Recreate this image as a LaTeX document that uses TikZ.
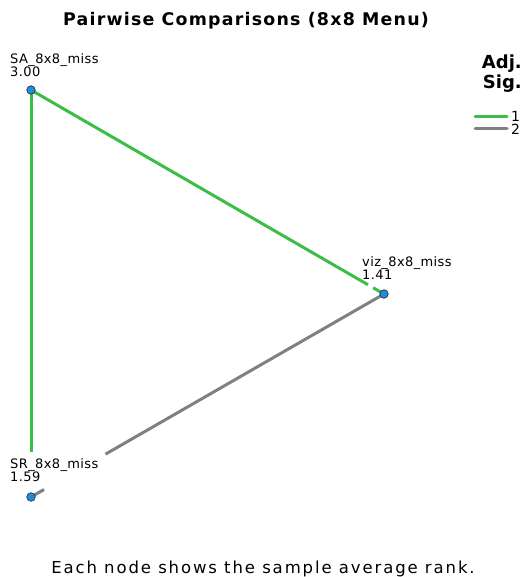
\documentclass[tikz,border=0pt]{standalone}
\usepackage{fontspec}
\usetikzlibrary{calc}
\setmainfont{DejaVu Sans}
\definecolor{sigone}{RGB}{60,190,70}
\definecolor{sigtwo}{RGB}{128,128,128}
\definecolor{nodeblue}{RGB}{30,140,225}
\begin{document}
\begin{tikzpicture}[x=1pt,y=-1pt,
  pt/.style={circle,draw=black!80,fill=nodeblue,line width=0.7pt,minimum size=8.5pt,inner sep=0pt},
  lab/.style={inner xsep=1pt,inner ysep=1pt,align=left,font=\addfontfeatures{LetterSpace=3}\fontsize{13}{11.5}\selectfont,anchor=north west},
  edgeone/.style={draw=sigone,line width=3pt},
  edgetwo/.style={draw=sigtwo,line width=3pt}]
\useasboundingbox (0,0) rectangle (525,577);
\node[font=\bfseries\addfontfeatures{LetterSpace=7}\fontsize{17.4}{17}\selectfont,anchor=base] (title) at (246,25.5) {Pairwise Comparisons (8x8 Menu)};
% node centres
\coordinate (SAc) at (31,90);
\coordinate (VZc) at (384,294);
\coordinate (SRc) at (31,497);
% connectors (interrupted where labels sit)
\draw[edgeone] (SAc) -- ($(VZc)!18.5pt!(SAc)$);
\draw[edgeone] ($(VZc)!12.5pt!(SAc)$) -- (VZc);
\draw[edgeone] (SAc) -- ($(SRc)!45pt!(SAc)$);
\draw[edgetwo] (VZc) -- ($(SRc)!86pt!(VZc)$);
\draw[edgetwo] (SRc) -- ($(SRc)!15pt!(VZc)$);
\node[lab] (SAl) at (9,52) {SA\_8x8\_miss\\3.00};
\node[lab] (VZl) at (361,255) {viz\_8x8\_miss\\1.41};
\node[lab] (SRl) at (9,457) {SR\_8x8\_miss\\1.59};
\node[pt] (SA) at (SAc) {};
\node[pt] (VZ) at (VZc) {};
\node[pt] (SR) at (SRc) {};
% legend
\node[font=\bfseries\fontsize{18}{19.5}\selectfont,align=right,anchor=north east,inner sep=0pt] (leg) at (522,55) {Adj.\\Sig.};
\coordinate (l1a) at (475,117); \coordinate (l1b) at (507,117);
\coordinate (l2a) at (475,129); \coordinate (l2b) at (507,129);
\draw[edgeone,line cap=round] (l1a) -- (l1b);
\draw[edgetwo,line cap=round] (l2a) -- (l2b);
\node[font=\fontsize{14}{14}\selectfont,anchor=base west,inner sep=0pt] (one) at (511,122) {1};
\node[font=\fontsize{14}{14}\selectfont,anchor=base west,inner sep=0pt] (two) at (511,134.5) {2};
\node[font=\addfontfeatures{LetterSpace=11.5}\fontsize{16.5}{16.5}\selectfont,anchor=base] (foot) at (263,573) {Each node shows the sample average rank.};
\end{tikzpicture}
\end{document}
